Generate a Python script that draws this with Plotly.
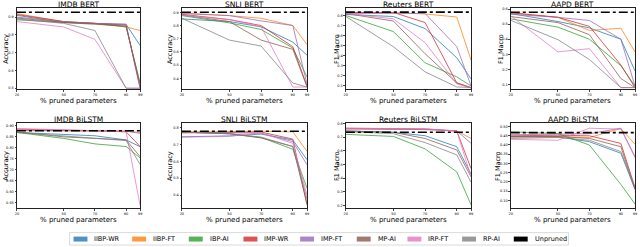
import plotly.graph_objects as go

# ---------------- data ----------------
X_PRUNED = [20, 50, 70, 90, 99]
SERIES = ["IIBP-WR", "IIBP-FT", "IBP-AI", "IMP-WR", "IMP-FT", "MP-AI", "IRP-FT", "RP-AI"]
COLORS = ["#1f77b4", "#ff7f0e", "#2ca02c", "#d62728", "#9467bd", "#8c564b", "#e377c2", "#7f7f7f"]

IMDB_BERT = {
    "IIBP-WR": [0.910, 0.870, 0.865, 0.860, 0.740],
    "IIBP-FT": [0.920, 0.875, 0.865, 0.845, 0.825],
    "IBP-AI":  [0.885, 0.870, 0.865, 0.845, 0.530],
    "IMP-WR":  [0.915, 0.875, 0.865, 0.855, 0.500],
    "IMP-FT":  [0.900, 0.875, 0.865, 0.860, 0.500],
    "MP-AI":   [0.895, 0.870, 0.860, 0.850, 0.520],
    "IRP-FT":  [0.875, 0.845, 0.775, 0.500, 0.500],
    "RP-AI":   [0.890, 0.865, 0.825, 0.500, 0.500],
}
SNLI_BERT = {
    "IIBP-WR": [0.850, 0.830, 0.790, 0.675, 0.575],
    "IIBP-FT": [0.895, 0.875, 0.855, 0.800, 0.655],
    "IBP-AI":  [0.875, 0.820, 0.770, 0.630, 0.410],
    "IMP-WR":  [0.885, 0.845, 0.800, 0.640, 0.340],
    "IMP-FT":  [0.890, 0.875, 0.835, 0.800, 0.355],
    "MP-AI":   [0.880, 0.830, 0.690, 0.620, 0.335],
    "IRP-FT":  [0.880, 0.845, 0.790, 0.335, 0.335],
    "RP-AI":   [0.855, 0.690, 0.645, 0.365, 0.335],
}
REUTERS_BERT = {
    "IIBP-WR": [0.810, 0.790, 0.670, 0.380, 0.170],
    "IIBP-FT": [0.830, 0.830, 0.815, 0.785, 0.357],
    "IBP-AI":  [0.800, 0.640, 0.330, 0.190, 0.100],
    "IMP-WR":  [0.830, 0.830, 0.730, 0.130, 0.085],
    "IMP-FT":  [0.820, 0.820, 0.820, 0.490, 0.100],
    "MP-AI":   [0.820, 0.745, 0.420, 0.130, 0.080],
    "IRP-FT":  [0.820, 0.767, 0.530, 0.120, 0.080],
    "RP-AI":   [0.790, 0.490, 0.240, 0.090, 0.085],
}
AAPD_BERT = {
    "IIBP-WR": [0.570, 0.517, 0.475, 0.400, 0.190],
    "IIBP-FT": [0.575, 0.545, 0.458, 0.473, 0.316],
    "IBP-AI":  [0.535, 0.480, 0.400, 0.225, 0.090],
    "IMP-WR":  [0.575, 0.545, 0.485, 0.230, 0.080],
    "IMP-FT":  [0.565, 0.545, 0.524, 0.400, 0.090],
    "MP-AI":   [0.550, 0.510, 0.430, 0.140, 0.080],
    "IRP-FT":  [0.555, 0.316, 0.338, 0.080, 0.080],
    "RP-AI":   [0.525, 0.397, 0.266, 0.080, 0.080],
}
IMDB_BILSTM = {
    "IIBP-WR": [0.870, 0.862, 0.855, 0.836, 0.805],
    "IIBP-FT": [0.878, 0.878, 0.877, 0.876, 0.870],
    "IBP-AI":  [0.870, 0.843, 0.818, 0.806, 0.754],
    "IMP-WR":  [0.885, 0.882, 0.878, 0.873, 0.806],
    "IMP-FT":  [0.880, 0.879, 0.878, 0.876, 0.866],
    "MP-AI":   [0.872, 0.850, 0.843, 0.836, 0.760],
    "IRP-FT":  [0.888, 0.884, 0.878, 0.873, 0.537],
    "RP-AI":   [0.870, 0.855, 0.845, 0.833, 0.724],
}
SNLI_BILSTM = {
    "IIBP-WR": [0.747, 0.752, 0.763, 0.728, 0.610],
    "IIBP-FT": [0.775, 0.780, 0.780, 0.776, 0.660],
    "IBP-AI":  [0.775, 0.765, 0.743, 0.673, 0.440],
    "IMP-WR":  [0.770, 0.775, 0.775, 0.733, 0.340],
    "IMP-FT":  [0.775, 0.772, 0.768, 0.718, 0.580],
    "MP-AI":   [0.775, 0.765, 0.740, 0.690, 0.345],
    "IRP-FT":  [0.744, 0.750, 0.770, 0.708, 0.400],
    "RP-AI":   [0.775, 0.765, 0.745, 0.688, 0.375],
}
REUTERS_BILSTM = {
    "IIBP-WR": [0.745, 0.735, 0.710, 0.630, 0.430],
    "IIBP-FT": [0.760, 0.760, 0.755, 0.745, 0.690],
    "IBP-AI":  [0.720, 0.705, 0.614, 0.446, 0.205],
    "IMP-WR":  [0.765, 0.765, 0.760, 0.745, 0.470],
    "IMP-FT":  [0.760, 0.760, 0.755, 0.745, 0.655],
    "MP-AI":   [0.745, 0.735, 0.690, 0.606, 0.410],
    "IRP-FT":  [0.765, 0.765, 0.760, 0.745, 0.410],
    "RP-AI":   [0.740, 0.725, 0.660, 0.570, 0.370],
}
AAPD_BILSTM = {
    "IIBP-WR": [0.443, 0.443, 0.417, 0.355, 0.160],
    "IIBP-FT": [0.443, 0.445, 0.440, 0.488, 0.403],
    "IBP-AI":  [0.470, 0.461, 0.399, 0.187, 0.081],
    "IMP-WR":  [0.449, 0.452, 0.449, 0.408, 0.170],
    "IMP-FT":  [0.455, 0.458, 0.460, 0.490, 0.337],
    "MP-AI":   [0.445, 0.445, 0.435, 0.390, 0.160],
    "IRP-FT":  [0.430, 0.425, 0.490, 0.485, 0.330],
    "RP-AI":   [0.435, 0.440, 0.425, 0.364, 0.170],
}
UNPRUNED = [0.928, 0.900, 0.833, 0.578, 0.878, 0.780, 0.735, 0.466]

PANEL_TITLES = ["IMDB BERT", "SNLI BERT", "Reuters BERT", "AAPD BERT",
                "IMDB BiLSTM", "SNLI BiLSTM", "Reuters BiLSTM", "AAPD BiLSTM"]
PANEL_DATA = [IMDB_BERT, SNLI_BERT, REUTERS_BERT, AAPD_BERT,
              IMDB_BILSTM, SNLI_BILSTM, REUTERS_BILSTM, AAPD_BILSTM]
Y_LABELS = ["Accuracy", "Accuracy", "F1 Macro", "F1 Macro",
            "Accuracy", "Accuracy", "F1 Macro", "F1 Macro"]
X_TICKS = [20, 50, 70, 90, 99]

# ---------------- layout / style ----------------
W, H = 640, 247
Y_RANGES = [(0.494, 0.952), (0.318, 0.933), (0.067, 0.875), (0.069, 0.607),
            (0.525, 0.913), (0.321, 0.829), (0.180, 0.803), (0.058, 0.518)]
Y_DTICK = [0.1, 0.1, 0.1, 0.1, 0.05, 0.1, 0.1, 0.05]
Y_FMT = [".1f", ".1f", ".1f", ".1f", ".2f", ".1f", ".1f", ".2f"]
COL_PX = [(15, 139), (181, 307), (346, 472), (512, 637)]
ROW_PX = [(7, 89), (123, 209)]
YTITLE_X = [3.2, 168.5, 336.5, 501.5, 3.2, 168.5, 336.5, 498.5]
FONT = "DejaVu Sans"

fig = go.Figure()
layout = dict(
    width=W, height=H, margin=dict(l=0, r=0, t=0, b=0),
    paper_bgcolor="white", plot_bgcolor="white", showlegend=False,
    font=dict(family=FONT, color="black"),
)
annotations = []
shapes = []

for i, (title, data) in enumerate(zip(PANEL_TITLES, PANEL_DATA)):
    r, c = divmod(i, 4)
    n = i + 1
    xl, xr = COL_PX[c]
    yt, yb = ROW_PX[r]
    ax = "" if n == 1 else str(n)
    layout["xaxis" + ax] = dict(
        domain=[xl / W, xr / W], anchor="y" + ax, range=[20, 99],
        tickvals=X_TICKS, ticks="outside", ticklen=2, tickwidth=0.5,
        tickfont=dict(size=3.5), showline=True, mirror=True, linecolor="#222",
        linewidth=0.7, showgrid=False, zeroline=False,
    )
    layout["yaxis" + ax] = dict(
        domain=[1 - yb / H, 1 - yt / H], anchor="x" + ax, range=list(Y_RANGES[i]),
        dtick=Y_DTICK[i], tick0=0, tickformat=Y_FMT[i], ticks="outside", ticklen=1.5,
        tickwidth=0.5, tickfont=dict(size=3.5), showline=True, mirror=True,
        linecolor="#222", linewidth=0.7, showgrid=False, zeroline=False,
    )
    for name, color in zip(SERIES, COLORS):
        fig.add_trace(go.Scatter(
            x=X_PRUNED, y=data[name], mode="lines", name=name,
            line=dict(color=color, width=1), opacity=0.75,
            xaxis="x" + ax, yaxis="y" + ax,
        ))
    fig.add_trace(go.Scatter(
        x=X_PRUNED, y=[UNPRUNED[i]] * len(X_PRUNED), mode="lines", name="Unpruned",
        line=dict(color="black", width=1.6, dash="dashdot"),
        xaxis="x" + ax, yaxis="y" + ax,
    ))
    cx = (xl + xr) / 2
    # panel title
    annotations.append(dict(
        text=title, x=cx / W, y=1 - (yt - 3.5) / H, xref="paper", yref="paper",
        xanchor="center", yanchor="middle", showarrow=False, font=dict(size=7.5),
    ))
    # x-axis title
    annotations.append(dict(
        text="% pruned parameters", x=cx / W, y=1 - (yb + 12) / H, xref="paper",
        yref="paper", xanchor="center", yanchor="middle", showarrow=False,
        font=dict(size=7),
    ))
    # y-axis title
    annotations.append(dict(
        text=Y_LABELS[i], x=YTITLE_X[i] / W, y=1 - ((yt + yb) / 2) / H, xref="paper",
        yref="paper", xanchor="center", yanchor="middle", showarrow=False,
        textangle=-90, font=dict(size=6.5),
    ))

# ---------------- legend (drawn as shapes + text) ----------------
LEG_NAMES = SERIES + ["Unpruned"]
LEG_COLORS = COLORS + ["black"]
LEG_X = [72, 131, 188, 243, 300, 357, 408, 463, 515]
LEG_Y = 240
shapes.append(dict(
    type="rect", xref="paper", yref="paper", x0=68 / W, x1=570 / W,
    y0=1 - 246 / H, y1=1 - 233.5 / H, line=dict(color="#d0d0d0", width=0.8),
    fillcolor="white", layer="below",
))
for name, color, lx in zip(LEG_NAMES, LEG_COLORS, LEG_X):
    shapes.append(dict(
        type="rect", xref="paper", yref="paper", x0=lx / W, x1=(lx + 14) / W,
        y0=1 - (LEG_Y + 2.5) / H, y1=1 - (LEG_Y - 2.5) / H,
        line=dict(width=0), fillcolor=color, opacity=0.8 if color != "black" else 1,
    ))
    annotations.append(dict(
        text=name, x=(lx + 19) / W, y=1 - LEG_Y / H, xref="paper", yref="paper",
        xanchor="left", yanchor="middle", showarrow=False, font=dict(size=6.5),
    ))

layout["annotations"] = annotations
layout["shapes"] = shapes
fig.update_layout(**layout)
fig.write_html(
    "out.html",
    config={"displayModeBar": False},
    post_script="document.body.style.margin='0px';document.body.style.overflow='hidden';",
)
